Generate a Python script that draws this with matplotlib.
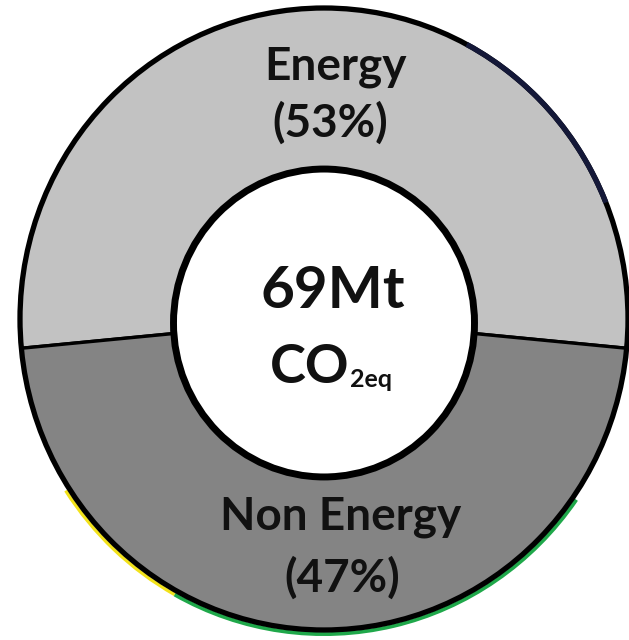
import matplotlib.pyplot as plt
from matplotlib.patches import Circle, Arc

plt.rcParams['font.family'] = ['Lato', 'DejaVu Sans']

categories = ['Energy', 'Non Energy']
shares = [53, 47]
total_mt = 69
colors = ['#c2c2c2', '#848484']

# image is a touch taller than wide, keep that stretch
K = 1.023
W, H = 629, 640


def ypix(p):
    # pixel row (from top) -> data y
    return (H - p) / K


fig = plt.figure(figsize=(6.29, 6.40), dpi=100)
ax = fig.add_axes([0, 0, 1, 1])

cx, cy = 324, ypix(319)
r_out = 304

# energy wedge centred on the top
start = 90 - shares[0] / 100 * 360 / 2
ax.pie(shares, colors=colors, startangle=start, counterclock=True,
       radius=r_out, center=(cx, cy), frame=True,
       wedgeprops=dict(edgecolor='black', linewidth=2.4))

# coloured rim bits along the bottom edge
ax.add_patch(Arc((cx, cy), 2 * (r_out + 4), 2 * (r_out + 4), theta1=213, theta2=241,
                 color='#f2e21a', linewidth=2.4, zorder=2))
ax.add_patch(Arc((cx, cy), 2 * (r_out + 4), 2 * (r_out + 4), theta1=241, theta2=325,
                 color='#1fa84a', linewidth=2.8, zorder=2))
ax.add_patch(Circle((cx, cy), r_out, facecolor='none', edgecolor='black', linewidth=3.8, zorder=3))
ax.add_patch(Arc((cx, cy), 2 * r_out, 2 * r_out, theta1=22, theta2=62,
                 color='#141838', linewidth=3.8, zorder=3))

ax.add_patch(Circle((cx, ypix(323)), 150.5, facecolor='white', edgecolor='black',
                    linewidth=5.0, zorder=4))

font = dict(fontweight='bold', color='#111111', ha='center', va='baseline', zorder=5)
ax.text(335, ypix(80), categories[0], fontsize=33, **font)
ax.text(330, ypix(137), '(%d%%)' % shares[0], fontsize=33, **font)
ax.text(341, ypix(530), categories[1], fontsize=33, **font)
ax.text(342, ypix(592), '(%d%%)' % shares[1], fontsize=33, **font)

ax.text(333, ypix(308), '%dMt' % total_mt, fontsize=42, **font)
ax.text(349, ypix(383), 'CO', fontsize=39, fontweight='bold', color='#111111',
        ha='right', va='baseline', zorder=5)
ax.text(350, ypix(387), '2eq', fontsize=18, fontweight='bold', color='#111111',
        ha='left', va='baseline', zorder=5)

ax.set_xlim(0, W)
ax.set_ylim(0, H / K)
ax.set_aspect('auto')
ax.axis('off')

fig.savefig('out.png', dpi=100, facecolor='white')
